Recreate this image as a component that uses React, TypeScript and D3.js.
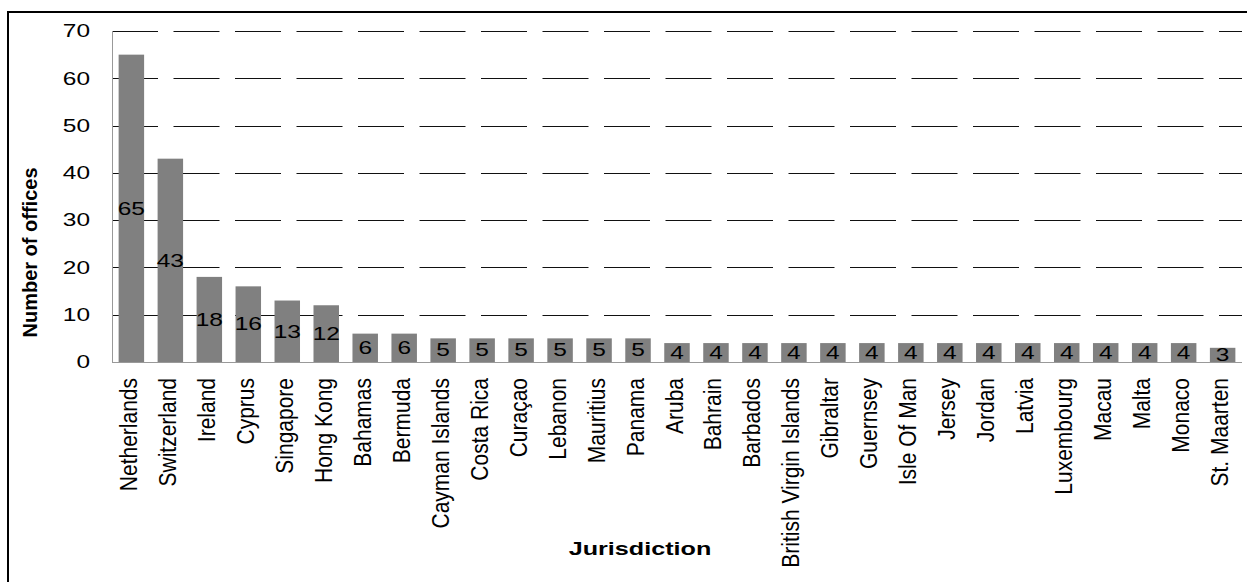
import React from "react";
import * as d3 from "d3";

// Offices per jurisdiction, sorted descending
const jurisdictions: string[] = [
  "Netherlands", "Switzerland", "Ireland", "Cyprus", "Singapore", "Hong Kong",
  "Bahamas", "Bermuda", "Cayman Islands", "Costa Rica", "Curaçao", "Lebanon",
  "Mauritius", "Panama", "Aruba", "Bahrain", "Barbados", "British Virgin Islands",
  "Gibraltar", "Guernsey", "Isle Of Man", "Jersey", "Jordan", "Latvia",
  "Luxembourg", "Macau", "Malta", "Monaco", "St. Maarten",
];
const offices: number[] = [
  65, 43, 18, 16, 13, 12, 6, 6, 5, 5, 5, 5, 5, 5, 4, 4, 4, 4, 4, 4, 4, 4, 4, 4, 4,
  4, 4, 4, 3,
];
const yTicks: number[] = [0, 10, 20, 30, 40, 50, 60, 70];

const W = 1247;
const H = 582;
const FONT = "'Liberation Sans', Arial, Helvetica, sans-serif";

export default function App() {
  const x = d3
    .scaleBand<string>()
    .domain(jurisdictions)
    .range([112, 1242])
    .paddingInner(0.346)
    .paddingOuter(0.17);
  const y = d3.scaleLinear().domain([0, 70]).range([362, 31]);
  const bw = x.bandwidth();

  return (
    <svg
      width={W}
      height={H}
      style={{ position: "absolute", left: 0, top: 0, background: "#fff" }}
      fontFamily={FONT}
    >
      {/* chart frame */}
      <rect x={8} y={12} width={W + 40} height={H + 40} fill="none" stroke="#000" strokeWidth={2} />

      {/* dashed gridlines */}
      {yTicks
        .filter((t) => t > 0)
        .map((t) => (
          <line
            key={"g" + t}
            x1={112}
            x2={1242}
            y1={Math.round(y(t)) + 0.5}
            y2={Math.round(y(t)) + 0.5}
            stroke="#111"
            strokeWidth={1}
            strokeDasharray="46 15.5"
          />
        ))}

      {/* bars */}
      {jurisdictions.map((j, i) => (
        <rect
          key={"b" + j}
          x={x(j)!}
          y={y(offices[i])}
          width={bw}
          height={y(0) - y(offices[i])}
          fill="#808080"
        />
      ))}

      {/* axes */}
      <line x1={112.5} x2={112.5} y1={y(70)} y2={y(0)} stroke="#999" strokeWidth={1} />
      <line x1={112} x2={1242} y1={y(0) + 0.5} y2={y(0) + 0.5} stroke="#999" strokeWidth={1} />

      {/* y tick labels */}
      {yTicks.map((t) => (
        <text
          key={"t" + t}
          transform={`translate(90,${y(t)}) scale(1.36,1)`}
          textAnchor="end"
          dy="0.35em"
          fontSize={18}
          fill="#000"
        >
          {t}
        </text>
      ))}

      {/* value labels, centred inside each bar */}
      {jurisdictions.map((j, i) => (
        <text
          key={"v" + j}
          transform={`translate(${x(j)! + bw / 2},${(y(offices[i]) + y(0)) / 2}) scale(1.36,1)`}
          textAnchor="middle"
          dy="0.35em"
          fontSize={18}
          fill="#000"
        >
          {offices[i]}
        </text>
      ))}

      {/* category labels */}
      {jurisdictions.map((j) => (
        <text
          key={"c" + j}
          transform={`translate(${x(j)! + bw / 2 + 5.5},378) rotate(-90) scale(1,1.12)`}
          textAnchor="end"
          fontSize={21}
          fill="#000"
        >
          {j}
        </text>
      ))}

      {/* axis titles */}
      <text
        transform={`translate(640,555) scale(1.4,1)`}
        textAnchor="middle"
        fontSize={18}
        fontWeight="bold"
        fill="#000"
      >
        Jurisdiction
      </text>
      <text
        transform={`translate(36.5,252.5) rotate(-90)`}
        textAnchor="middle"
        fontSize={20}
        fontWeight="bold"
        fill="#000"
      >
        Number of offices
      </text>
    </svg>
  );
}
